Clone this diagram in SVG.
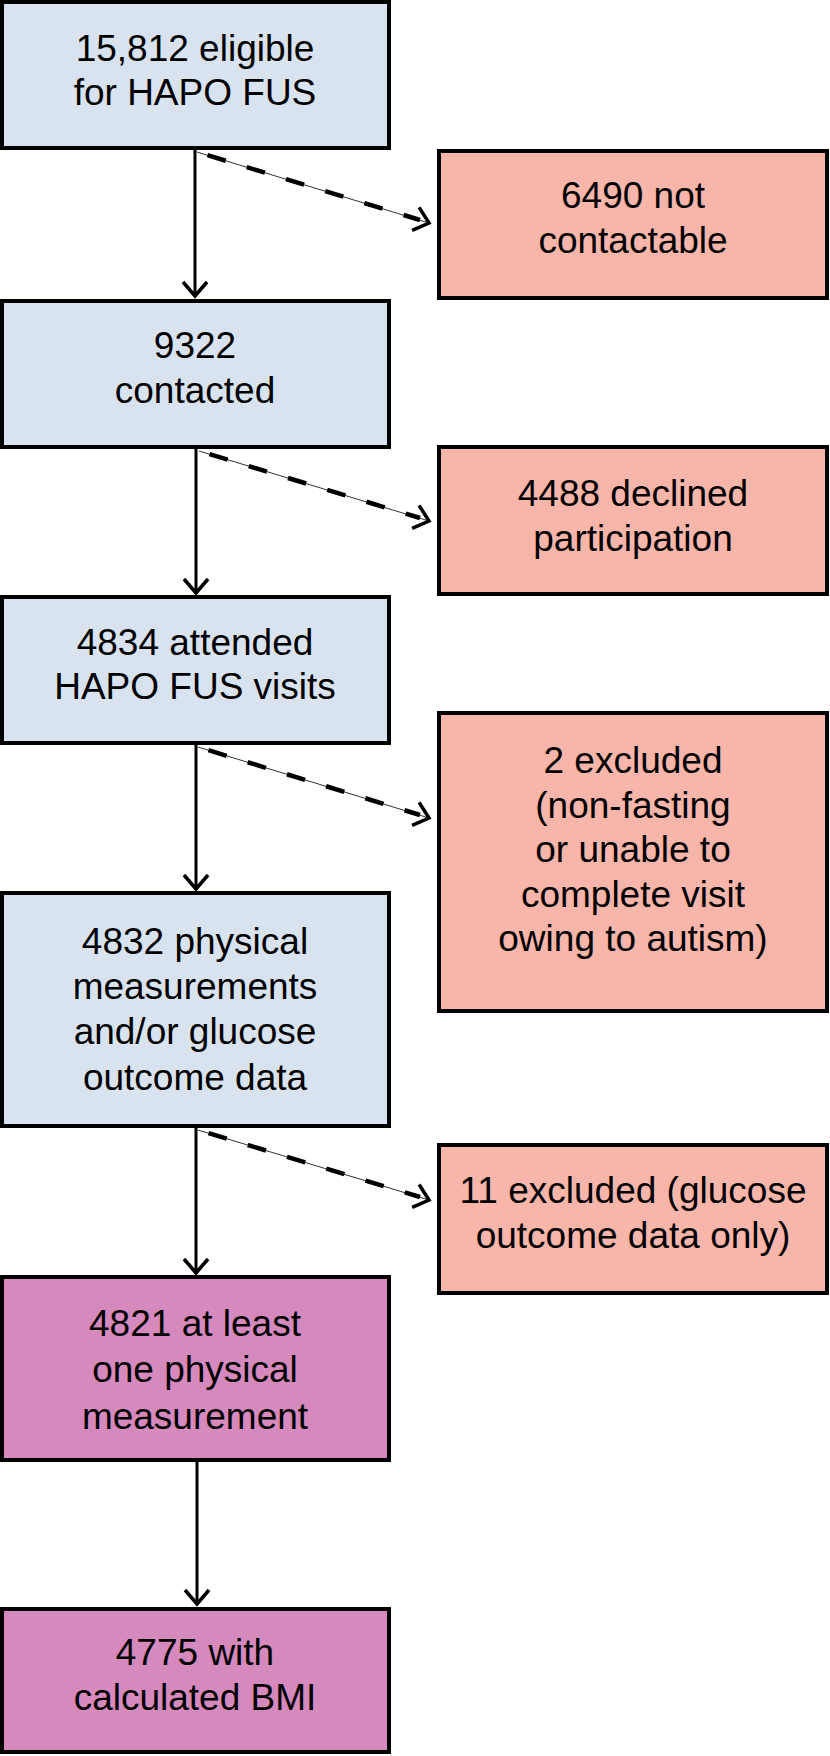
<svg xmlns="http://www.w3.org/2000/svg" width="830" height="1756" viewBox="0 0 830 1756">
<style>
.box{stroke:#000;stroke-width:4}
.blue{fill:#d9e3ef}
.red{fill:#f8b5aa}
.pur{fill:#d689bd}
text{font-family:"Liberation Sans",Arial,sans-serif;font-size:37px;fill:#000;text-anchor:middle}
.main{stroke:#000;stroke-width:3;fill:none}
.thin{stroke:#333;stroke-width:1;fill:none}
.dash{stroke:#000;stroke-width:4.5;fill:none;stroke-dasharray:19 22;stroke-dashoffset:30}
</style>
<defs>
<marker id="ah" markerUnits="userSpaceOnUse" markerWidth="40" markerHeight="40" refX="0" refY="0" viewBox="-20 -20 40 40" orient="auto" overflow="visible">
<path d="M -14 -12 L 0 0 L -14 12" fill="none" stroke="#000" stroke-width="3.5"/>
</marker>
</defs>
<rect width="830" height="1756" fill="#fff"/>
<g id="connectors">
<line class="main" x1="195" y1="150" x2="195" y2="296" marker-end="url(#ah)"/>
<line class="thin" x1="197" y1="152" x2="429" y2="223" marker-end="url(#ah)"/>
<line class="dash" x1="197" y1="152" x2="420" y2="220"/>
<line class="main" x1="196" y1="449" x2="196" y2="593" marker-end="url(#ah)"/>
<line class="thin" x1="199" y1="451" x2="429" y2="521" marker-end="url(#ah)"/>
<line class="dash" x1="199" y1="451" x2="420" y2="518"/>
<line class="main" x1="196" y1="745" x2="196" y2="889" marker-end="url(#ah)"/>
<line class="thin" x1="198" y1="747" x2="429" y2="818" marker-end="url(#ah)"/>
<line class="dash" x1="198" y1="747" x2="420" y2="815"/>
<line class="main" x1="196" y1="1128" x2="196" y2="1273" marker-end="url(#ah)"/>
<line class="thin" x1="198" y1="1130" x2="429" y2="1200" marker-end="url(#ah)"/>
<line class="dash" x1="198" y1="1130" x2="420" y2="1197"/>
<line class="main" x1="197" y1="1462" x2="197" y2="1604" marker-end="url(#ah)"/>
</g>
<g id="n1"><rect class="box blue" x="2" y="2" width="387" height="146"/>
<text x="195" y="61">15,812 eligible</text><text x="195" y="105">for HAPO FUS</text></g>
<g id="n2"><rect class="box red" x="439" y="151" width="388" height="147"/>
<text x="633" y="208">6490 not</text><text x="633" y="253">contactable</text></g>
<g id="n3"><rect class="box blue" x="2" y="301" width="387" height="146"/>
<text x="195" y="358">9322</text><text x="195" y="403">contacted</text></g>
<g id="n4"><rect class="box red" x="439" y="447" width="388" height="147"/>
<text x="633" y="506">4488 declined</text><text x="633" y="551">participation</text></g>
<g id="n5"><rect class="box blue" x="2" y="597" width="387" height="146"/>
<text x="195" y="655">4834 attended</text><text x="195" y="699">HAPO FUS visits</text></g>
<g id="n6"><rect class="box red" x="439" y="713" width="388" height="298"/>
<text x="633" y="773">2 excluded</text><text x="633" y="818">(non-fasting</text><text x="633" y="862">or unable to</text><text x="633" y="907">complete visit</text><text x="633" y="951">owing to autism)</text></g>
<g id="n7"><rect class="box blue" x="2" y="893" width="387" height="233"/>
<text x="195" y="954">4832 physical</text><text x="195" y="999">measurements</text><text x="195" y="1044">and/or glucose</text><text x="195" y="1090">outcome data</text></g>
<g id="n8"><rect class="box red" x="439" y="1145" width="388" height="148"/>
<text x="633" y="1203">11 excluded (glucose</text><text x="633" y="1248">outcome data only)</text></g>
<g id="n9"><rect class="box pur" x="2" y="1277" width="387" height="183"/>
<text x="195" y="1336">4821 at least</text><text x="195" y="1382">one physical</text><text x="195" y="1429">measurement</text></g>
<g id="n10"><rect class="box pur" x="2" y="1609" width="387" height="143"/>
<text x="195" y="1665">4775 with</text><text x="195" y="1710">calculated BMI</text></g>
</svg>
